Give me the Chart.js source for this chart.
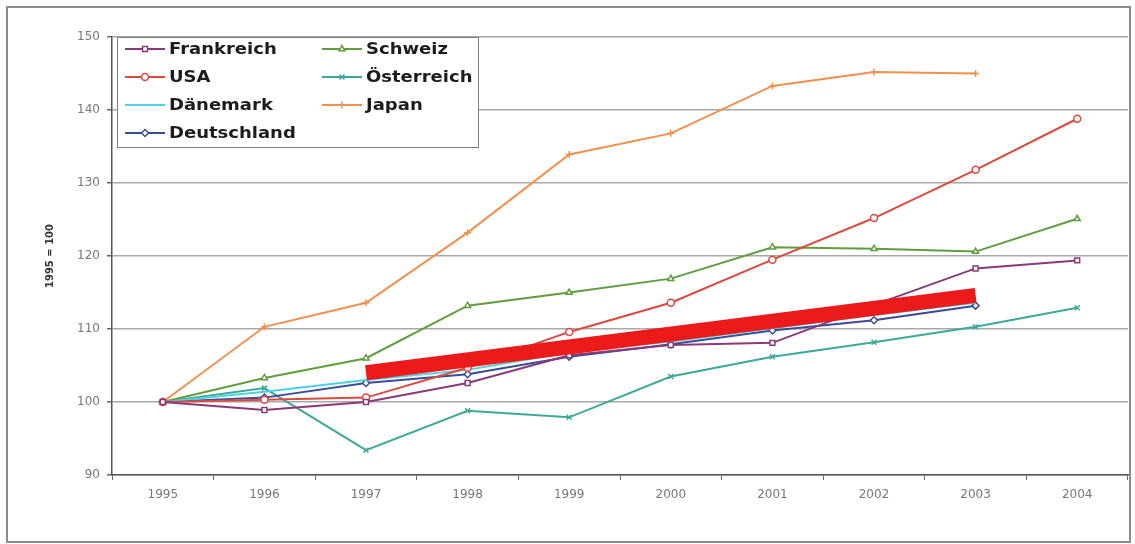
<!DOCTYPE html>
<html>
<head>
<meta charset="utf-8">
<script src="https://cdn.jsdelivr.net/npm/chart.js@4"></script>
<style>
    html, body { margin: 0; padding: 0; background: #fff; }
    #wrap { position: relative; width: 1135px; height: 544px; }
    #frame { position: absolute; left: 6px; top: 6px; width: 1121px; height: 533px; border: 2px solid #8c8c8c; pointer-events: none; }
</style>
</head>
<body>
<div id="wrap">
    <canvas id="chart" width="1135" height="544"></canvas>
    <div id="frame"></div>
</div>
<script>
// Index values, 1995 = 100
const years = ['1995', '1996', '1997', '1998', '1999', '2000', '2001', '2002', '2003', '2004'];
const yTicks = [90, 100, 110, 120, 130, 140, 150];

const frankreich  = [100, 98.9, 100.0, 102.6, 106.4, 107.8, 108.1, 113.3, 118.3, 119.4];
const usa         = [100, 100.3, 100.6, 104.7, 109.6, 113.6, 119.5, 125.2, 131.8, 138.8];
const daenemark   = [100, 101.4, 103.0, 104.4, 106.8, 108.3, 110.1, 111.9, 113.6, null];
const deutschland = [100, 100.6, 102.6, 103.8, 106.2, 107.9, 109.8, 111.2, 113.2, null];
const schweiz     = [100, 103.3, 106.0, 113.2, 115.0, 116.9, 121.2, 121.0, 120.6, 125.1];
const oesterreich = [100, 101.9, 93.4, 98.8, 97.9, 103.5, 106.2, 108.2, 110.3, 112.9];
const japan       = [100, 110.3, 113.6, 123.2, 133.9, 136.8, 143.3, 145.2, 145.0, null];
// hand drawn red trend bar, 1997 -> 2003
const trendBar    = [null, null, 104.0, null, null, null, null, null, 114.6, null];

const LEGEND_ORDER = ['Frankreich', 'Schweiz', 'USA', 'Österreich', 'Dänemark', 'Japan', 'Deutschland'];

function series(label, data, color, pointStyle) {
    return {
        label: label,
        data: data,
        borderColor: color,
        backgroundColor: '#fff',
        borderWidth: 2,
        pointStyle: pointStyle,
        pointRadius: pointStyle ? 3.5 : 0,
        pointBorderWidth: 1.5,
        pointBorderColor: color,
        pointBackgroundColor: '#fff',
        tension: 0,
        spanGaps: false
    };
}

const legendBox = {
    id: 'legendBox',
    afterDatasetsDraw(chart) {
        const ctx = chart.ctx;
        ctx.save();
        ctx.fillStyle = '#fff';
        ctx.strokeStyle = '#808080';
        ctx.lineWidth = 1;
        ctx.fillRect(117.5, 37.5, 361, 110);
        ctx.strokeRect(117.5, 37.5, 361, 110);

        ctx.font = 'bold 15px "DejaVu Sans"';
        ctx.textBaseline = 'middle';
        LEGEND_ORDER.forEach((label, i) => {
            const ds = chart.data.datasets.find(d => d.label === label);
            const x = 125 + (i % 2) * 197;
            const y = 49 + Math.floor(i / 2) * 28;
            ctx.strokeStyle = ds.borderColor;
            ctx.lineWidth = 2;
            ctx.beginPath();
            ctx.moveTo(x, y);
            ctx.lineTo(x + 40, y);
            ctx.stroke();
            if (ds.pointStyle) {
                ctx.fillStyle = '#fff';
                ctx.lineWidth = 1.5;
                Chart.helpers.drawPoint(ctx, { pointStyle: ds.pointStyle, radius: 3.5, borderWidth: 1.5, rotation: 0 }, x + 20, y);
            }
            // scanned legend text is wide and low, stretch it a bit
            ctx.save();
            ctx.translate(x + 44, y + 1);
            ctx.scale(1.2, 1);
            ctx.fillStyle = '#1c1c1c';
            ctx.fillText(label, 0, 0);
            ctx.restore();
        });
        ctx.restore();
    }
};

new Chart(document.getElementById('chart'), {
    type: 'line',
    data: {
        labels: years,
        datasets: [
            {
                label: 'Trend',
                data: trendBar,
                borderColor: '#ec1b1b',
                borderWidth: 15,
                borderCapStyle: 'butt',
                pointRadius: 0,
                spanGaps: true
            },
            series('Frankreich', frankreich, '#8a3a76', 'rect'),
            series('USA', usa, '#dc4a3e', 'circle'),
            series('Dänemark', daenemark, '#4cd0e4', false),
            series('Deutschland', deutschland, '#3a4c98', 'rectRot'),
            series('Schweiz', schweiz, '#5e9e3c', 'triangle'),
            series('Österreich', oesterreich, '#3ea89a', 'crossRot'),
            series('Japan', japan, '#f0904c', 'cross')
        ]
    },
    options: {
        responsive: false,
        animation: false,
        devicePixelRatio: 1,
        layout: { padding: { top: 37, right: 7, left: 0, bottom: 0 } },
        plugins: {
            legend: { display: false },
            tooltip: { enabled: false }
        },
        scales: {
            x: {
                offset: true,
                grid: {
                    offset: true,
                    drawOnChartArea: false,
                    drawTicks: true,
                    tickLength: 5,
                    tickColor: '#666'
                },
                border: { color: '#555', width: 1.5 },
                ticks: {
                    color: '#777',
                    padding: 8,
                    font: { family: 'DejaVu Sans', size: 12 }
                },
                afterFit: (scale) => { scale.height = 69; }
            },
            y: {
                min: 90,
                max: 150,
                afterBuildTicks: (scale) => { scale.ticks = yTicks.map(v => ({ value: v })); },
                grid: {
                    color: '#a8a8a8',
                    lineWidth: 1.5,
                    tickLength: 5,
                    tickColor: '#666'
                },
                border: { color: '#555', width: 1.5 },
                ticks: {
                    color: '#777',
                    padding: 7,
                    font: { family: 'DejaVu Sans', size: 12 }
                },
                title: {
                    display: true,
                    text: '1995 = 100',
                    color: '#333',
                    font: { family: 'DejaVu Sans', size: 10, weight: 'bold' },
                    padding: { top: 44, bottom: 0 }
                },
                afterFit: (scale) => { scale.width = 112; }
            }
        }
    },
    plugins: [legendBox]
});
</script>
</body>
</html>
